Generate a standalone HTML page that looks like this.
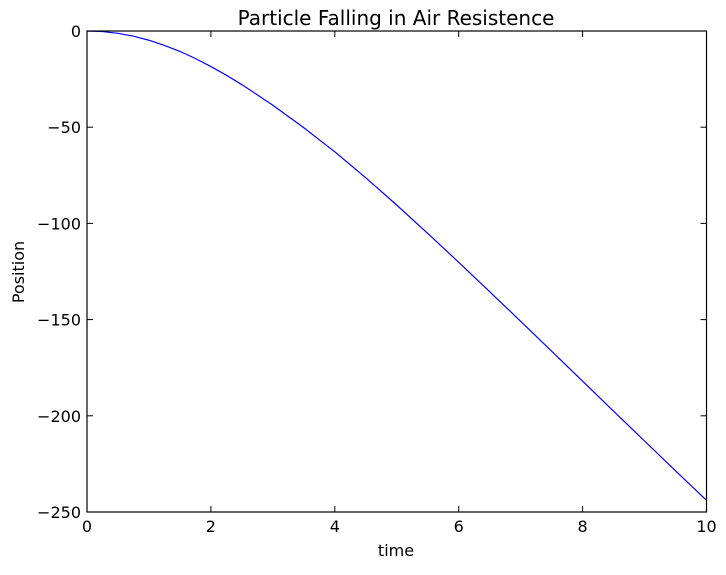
<!DOCTYPE html>
<html><head><meta charset="utf-8">
<style>
html,body{margin:0;padding:0;background:#fff;}
svg text{font-family:"DejaVu Sans","Liberation Sans",sans-serif;fill:#000;}
</style></head>
<body>
<svg id="chart" width="726" height="570" xmlns="http://www.w3.org/2000/svg">
<rect width="726" height="570" fill="#fff"/>
<text x="396" y="25" font-size="20" text-anchor="middle">Particle Falling in Air Resistence</text>
<text x="396" y="556" font-size="16" text-anchor="middle">time</text>
<text x="24" y="272" font-size="16" text-anchor="middle" transform="rotate(-90 24 272)">Position</text>
<g id="ticks"></g>
<path id="series" fill="none" stroke="#0000ff" stroke-width="1.2"/>
<rect x="87" y="31" width="619.5" height="481" fill="none" stroke="#000" stroke-width="1.2"/>
</svg>
<script>
const times = [0,0.25,0.5,0.75,1,1.25,1.5,1.75,2,2.25,2.5,2.75,3,3.5,4,4.5,5,5.5,6,6.5,7,7.5,8,8.5,9,9.5,10];
const positions = [0,-0.3,-1.2,-2.7,-4.8,-7.5,-10.6,-14.3,-18.5,-23.0,-27.9,-33.2,-38.6,-50.3,-62.8,-76.3,-90.5,-105.2,-120.2,-135.5,-150.9,-166.4,-182.0,-197.6,-213.1,-228.6,-243.9];
const xTicks = [0,2,4,6,8,10];
const yTicks = [0,-50,-100,-150,-200,-250];
const X0=87,X1=706.5,Y0=31,Y1=512;
function sx(v){return X0+(v-0)/(10-0)*(X1-X0);}
function sy(v){return Y0+(0-v)/(0+250)*(Y1-Y0);}
const ns="http://www.w3.org/2000/svg";
const g=document.getElementById('ticks');
function mk(tag,attrs){const e=document.createElementNS(ns,tag);for(const k in attrs)e.setAttribute(k,attrs[k]);g.appendChild(e);return e;}
xTicks.forEach(t=>{
  const x=sx(t);
  const a=mk('line',{x1:x,x2:x,y1:Y1,y2:Y1-6,stroke:'#000','stroke-width':1});
  
  
  const b=mk('line',{x1:x,x2:x,y1:Y0,y2:Y0+6,stroke:'#000','stroke-width':1});
  
  
  const tx=mk('text',{x:x,y:Y1+20,'font-size':16,'text-anchor':'middle'});
  tx.textContent=String(t);
  
  
});
yTicks.forEach(t=>{
  const y=sy(t);
  const a=mk('line',{x1:X0,x2:X0+6,y1:y,y2:y,stroke:'#000','stroke-width':1});
  
  
  const b=mk('line',{x1:X1,x2:X1-6,y1:y,y2:y,stroke:'#000','stroke-width':1});
  
  
  const tx=mk('text',{x:X0-6,y:y+6,'font-size':16,'text-anchor':'end'});
  tx.textContent=t===0?'0':'\u2212'+Math.abs(t);
  
  
});
document.getElementById('series').setAttribute('d',times.map((t,i)=>(i?'L':'M')+sx(t).toFixed(2)+' '+sy(positions[i]).toFixed(2)).join(' '));
</script>
</body></html>
